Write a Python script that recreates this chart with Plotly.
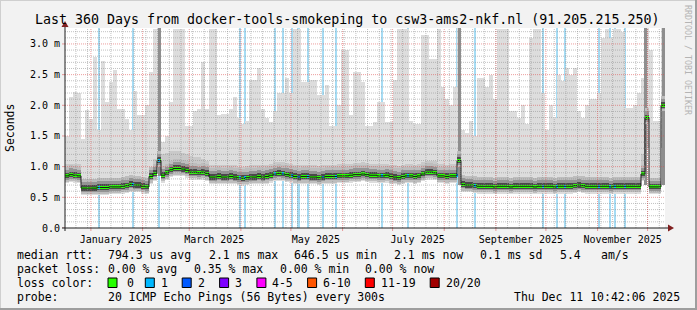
import plotly.graph_objects as go
import pandas as pd

# ---------------- data ----------------
START = pd.Timestamp("2024-12-16 10:42:06")
END = pd.Timestamp("2025-12-11 10:42:06")
BIN_DAYS = 2.4          # each smoke column covers 2.4 days (150 columns)
YMAX = 3.26

median_ms = [
    0.85, 0.87, 0.86, 0.85,
    0.65, 0.65, 0.65, 0.65, 0.66, 0.66, 0.66, 0.67,
    0.67, 0.67, 0.68, 0.69, 0.71, 0.70, 0.70, 0.68, 0.67,
    0.84, 0.89, 1.10, 0.86, 0.90, 0.95, 0.97, 0.97, 0.96, 0.94, 0.91, 0.91, 0.90, 0.91, 0.89,
    0.83, 0.83, 0.84, 0.83, 0.83, 0.84, 0.83, 0.82, 0.81, 0.82, 0.83, 0.83, 0.84, 0.83, 0.84,
    0.86, 0.88, 0.89, 0.88, 0.87, 0.86, 0.84, 0.83, 0.84, 0.84, 0.83, 0.83, 0.82, 0.83, 0.84,
    0.84, 0.84, 0.85, 0.85, 0.85, 0.86, 0.87, 0.87, 0.88, 0.87, 0.86, 0.86, 0.85, 0.85, 0.86,
    0.84, 0.83, 0.82, 0.84, 0.85, 0.85, 0.84, 0.85, 0.88, 0.91, 0.91, 0.90, 0.85, 0.85, 0.84,
    0.85, 0.85, 1.10,
    0.71, 0.70, 0.70, 0.69,
    0.68, 0.68, 0.68, 0.68, 0.67, 0.68, 0.68, 0.68, 0.67, 0.68, 0.68, 0.68, 0.68, 0.68,
    0.67, 0.68, 0.68, 0.68, 0.68, 0.67, 0.68, 0.68, 0.68, 0.68, 0.69, 0.70, 0.69, 0.68,
    0.68, 0.68, 0.68, 0.68, 0.68, 0.67, 0.68, 0.68, 0.68, 0.68, 0.68, 0.68, 0.68,
    0.88, 1.80, 0.67, 0.67, 0.67, 2.00,
]

q3_ms = [
    1.05, 1.05, 1.05, 1.05,
    0.80, 0.80, 0.80, 0.80, 0.81, 0.81, 0.81, 0.82,
    0.82, 0.82, 0.83, 0.84, 0.86, 0.85, 0.85, 0.83, 0.82,
    1.00, 1.12, 1.20, 1.20, 1.22, 1.25, 1.25, 1.25, 1.22, 1.20, 1.18, 1.15, 1.15, 1.12, 1.10,
    1.02, 1.02, 1.03, 1.02, 1.02, 1.03, 1.02, 1.00, 1.00, 1.01, 1.02, 1.02, 1.03, 1.02, 1.03,
    1.05, 1.07, 1.08, 1.07, 1.06, 1.05, 1.03, 1.02, 1.03, 1.03, 1.02, 1.02, 1.01, 1.02, 1.03,
    1.03, 1.03, 1.04, 1.04, 1.04, 1.05, 1.06, 1.06, 1.07, 1.06, 1.05, 1.05, 1.04, 1.04, 1.05,
    1.03, 1.02, 1.01, 1.03, 1.04, 1.04, 1.03, 1.04, 1.07, 1.10, 1.10, 1.09, 1.04, 1.04, 1.03,
    1.04, 1.04, 1.20,
    0.82, 0.82, 0.81, 0.80,
    0.80, 0.80, 0.80, 0.80, 0.79, 0.80, 0.80, 0.80, 0.79, 0.80, 0.80, 0.80, 0.80, 0.80,
    0.79, 0.80, 0.80, 0.80, 0.80, 0.79, 0.80, 0.80, 0.80, 0.80, 0.81, 0.82, 0.81, 0.80,
    0.80, 0.80, 0.80, 0.80, 0.80, 0.79, 0.80, 0.80, 0.80, 0.80, 0.80, 0.80, 0.80,
    1.20, 1.30, 0.80, 0.80, 0.80, 1.30,
]

max_ms = [
    1.50, 2.13, 2.22, 2.20,
    1.45, 1.92, 1.78, 2.79, 1.60, 2.72, 2.05, 2.38,
    2.57, 1.94, 1.94, 1.78, 1.60, 2.23, 1.84, 1.84, 2.00,
    2.54, 3.24, 3.26, 1.40, 1.50, 2.05, 3.24, 3.24, 3.24, 1.67, 1.67, 1.90, 1.94, 2.70, 1.94,
    3.24, 3.24, 1.84, 1.86, 1.86, 1.94, 2.13, 1.80, 1.70, 1.75, 2.41, 2.41, 2.60, 1.94, 1.80,
    1.73, 1.90, 2.20, 2.20, 2.44, 2.20, 3.24, 3.24, 2.38, 2.38, 2.41, 2.41, 2.16, 2.16, 2.33,
    1.67, 1.67, 2.00, 2.90, 2.90, 1.84, 2.54, 2.54, 2.38, 1.67, 1.67, 1.73, 2.05, 2.05, 1.73,
    1.73, 2.41, 3.24, 3.24, 3.24, 1.75, 1.70, 1.70, 3.14, 3.14, 2.76, 2.76, 3.24, 2.30, 2.10,
    2.00, 2.30, 3.26,
    1.60, 1.55, 1.75, 1.50,
    2.44, 2.44, 2.30, 2.50, 2.10, 3.24, 3.24, 3.24, 1.90, 1.90, 1.80, 2.00, 1.70, 3.10,
    3.24, 3.24, 2.20, 1.60, 2.00, 1.80, 2.50, 2.40, 2.60, 2.50, 2.60, 1.90, 1.80, 2.00,
    2.10, 2.10, 2.20, 3.10, 3.24, 3.10, 3.24, 3.24, 3.20, 1.95, 1.95, 2.00, 2.20,
    2.45, 3.26, 2.90, 1.75, 1.75, 3.26,
]

# times with 1/20 packet loss (light-blue background bars) and their widths in days
loss_times = [
    "2025-01-06 00:40", "2025-01-26 01:40", "2025-02-11 00:40", "2025-03-31 10:50",
    "2025-04-03 10:50", "2025-04-21 10:50", "2025-04-26 01:40", "2025-05-01 19:50",
    "2025-05-05 17:30", "2025-05-11 01:40", "2025-05-20 01:40", "2025-05-28 01:10",
    "2025-06-24 11:20", "2025-07-10 10:20", "2025-08-08 11:20", "2025-08-19 10:50",
    "2025-09-29 01:40", "2025-10-07 11:20", "2025-10-12 10:50", "2025-11-01 14:40",
    "2025-11-08 10:50", "2025-11-11 10:50", "2025-11-17 10:50",
]
loss_width_days = [1.2, 1.2, 1.2, 1.2, 1.2, 1.2, 1.2, 1.2, 1.8, 1.2, 1.2, 1.2,
                   1.2, 1.2, 1.2, 1.2, 1.2, 1.2, 1.2, 1.2, 1.2, 1.2, 1.2]

# short, wide-spread transition columns of the smoke
transition_times = ["2025-02-11 03:35", "2025-08-10 03:35", "2025-11-29 18:00", "2025-12-10 13:10"]
transition_low_ms = [0.85, 0.70, 0.70, 0.70]
transition_high_ms = [3.26, 3.26, 3.26, 3.26]

y_tick_vals = [0.0, 0.5, 1.0, 1.5, 2.0, 2.5, 3.0]
y_tick_text = ["0.0", "0.5 m", "1.0 m", "1.5 m", "2.0 m", "2.5 m", "3.0 m"]
x_label_dates = ["2025-01-16", "2025-03-16", "2025-05-16", "2025-07-16", "2025-09-16", "2025-11-16"]
x_label_text = ["January 2025", "March 2025", "May 2025", "July 2025", "September 2025", "November 2025"]
month_starts = ["2025-01-01", "2025-02-01", "2025-03-01", "2025-04-01", "2025-05-01", "2025-06-01",
                "2025-07-01", "2025-08-01", "2025-09-01", "2025-10-01", "2025-11-01", "2025-12-01"]

title_text = "Last 360 Days from docker-tools-smokeping to csw3-ams2-nkf.nl (91.205.215.250)"
rtt_items = ["median rtt:", "794.3 us avg", "2.1 ms max", "646.5 us min", "2.1 ms now", "0.1 ms sd", "5.4", "am/s"]
loss_items = ["packet loss:", "0.00 % avg", "0.35 % max", "0.00 % min", "0.00 % now"]
loss_levels = ["0", "1", "2", "3", "4-5", "6-10", "11-19", "20/20"]
loss_colors = ["#26ff00", "#00b8ff", "#0059ff", "#7e00ff", "#ff00ff", "#ff5500", "#ff0000", "#a10000"]
probe_items = ["probe:", "20 ICMP Echo Pings (56 Bytes) every 300s"]
stamp_text = "Thu Dec 11 10:42:06 2025"

# ---------------- geometry / style ----------------
W, H = 697, 310
PL, PR, PT, PB = 65, 665, 28, 228          # plot area in pixels
MONO = "DejaVu Sans Mono"
DAY_MS = 86400000


def px(xp):
    return (xp - PL) / (PR - PL)


def py(yp):
    return (PB - yp) / (PB - PT)


n = len(median_ms)
bin_start = [START + pd.Timedelta(days=BIN_DAYS * i) for i in range(n)]
bin_mid = [START + pd.Timedelta(days=BIN_DAYS * (i + 0.5)) for i in range(n)]
bw = BIN_DAYS * DAY_MS

fig = go.Figure()

# loss background bars (full height, behind the smoke)
fig.add_trace(go.Bar(
    x=pd.to_datetime(loss_times), y=[YMAX] * len(loss_times), base=0,
    width=[w * DAY_MS for w in loss_width_days],
    marker=dict(color="#a6dcf4", line=dict(width=0)), hoverinfo="skip"))

SMOKE_BELOW = 0.12
# light smoke: lowest to highest ping
fig.add_trace(go.Bar(
    x=bin_mid, base=[m - SMOKE_BELOW for m in median_ms],
    y=[t - (m - SMOKE_BELOW) for t, m in zip(max_ms, median_ms)], width=bw,
    marker=dict(color="#dddddd", line=dict(width=0)), hoverinfo="skip"))
# medium smoke
fig.add_trace(go.Bar(
    x=bin_mid, base=[m - 0.10 for m in median_ms],
    y=[q - (m - 0.10) for q, m in zip(q3_ms, median_ms)], width=bw,
    marker=dict(color="#c9c9c9", line=dict(width=0)), hoverinfo="skip"))
# transition columns
fig.add_trace(go.Bar(
    x=pd.to_datetime(transition_times), base=transition_low_ms,
    y=[h - l for h, l in zip(transition_high_ms, transition_low_ms)], width=1.3 * DAY_MS,
    marker=dict(color="#8e8e8e", line=dict(width=0)), hoverinfo="skip"))
# darker smoke close to the median
for lo, hi, col in [(0.10, 0.15, "#bdbdbd"), (0.065, 0.10, "#959595"), (0.04, 0.05, "#4a4a4a")]:
    fig.add_trace(go.Bar(
        x=bin_mid, base=[m - lo for m in median_ms], y=[lo + hi] * n, width=bw,
        marker=dict(color=col, line=dict(width=0)), hoverinfo="skip"))
# dark step line of the median
fig.add_trace(go.Scatter(
    x=bin_start + [END], y=median_ms + [median_ms[-1]], mode="lines",
    line=dict(color="#1a1a1a", width=1, shape="hv"), hoverinfo="skip"))
# median coloured by loss (0 loss)
fig.add_trace(go.Bar(
    x=bin_mid, base=[m - 0.022 for m in median_ms], y=[0.047] * n, width=bw,
    marker=dict(color=loss_colors[0], line=dict(width=0)), hoverinfo="skip"))
# median where 1 packet was lost
loss_ts = pd.to_datetime(loss_times)
loss_med = [median_ms[min(n - 1, int((t - START) / pd.Timedelta(days=BIN_DAYS)))] for t in loss_ts]
fig.add_trace(go.Bar(
    x=loss_ts, base=[m - 0.022 for m in loss_med], y=[0.047] * len(loss_ts),
    width=[w * DAY_MS for w in loss_width_days],
    marker=dict(color=loss_colors[1], line=dict(width=0)), hoverinfo="skip"))

# ---------------- grid (drawn above the data, like rrdtool) ----------------
shapes = []
MINOR = "rgba(143,143,143,0.55)"
MAJOR = "rgba(222,79,79,0.55)"
DOT = "1px,1px"
for k in range(1, 33):
    v = k / 10
    major = (k % 5 == 0)
    shapes.append(dict(type="line", xref="paper", yref="y", x0=0, x1=1, y0=v, y1=v, layer="above",
                       line=dict(color=MAJOR if major else MINOR, width=1, dash=DOT)))
wk = pd.Timestamp("2024-12-23")
while wk < END:
    shapes.append(dict(type="line", xref="x", yref="paper", x0=wk, x1=wk, y0=0, y1=1, layer="above",
                       line=dict(color=MINOR, width=1, dash=DOT)))
    wk += pd.Timedelta(days=7)
for d in month_starts:
    shapes.append(dict(type="line", xref="x", yref="paper", x0=d, x1=d, y0=0, y1=1, layer="above",
                       line=dict(color=MAJOR, width=1, dash=DOT)))
    shapes.append(dict(type="line", xref="x", yref="paper", x0=d, x1=d, y0=0, y1=py(231), layer="above",
                       line=dict(color=MAJOR, width=1)))
for v in y_tick_vals:
    shapes.append(dict(type="line", xref="paper", yref="y", x0=px(62), x1=0, y0=v, y1=v, layer="above",
                       line=dict(color=MAJOR, width=1)))

# axes with arrows
AX = "#1f1f1f"
ARROW = "#801f1f"
shapes.append(dict(type="line", xref="paper", yref="paper", x0=px(62), x1=px(670), y0=0, y1=0,
                   layer="above", line=dict(color=AX, width=1)))
shapes.append(dict(type="line", xref="paper", yref="paper", x0=0, x1=0, y0=py(231), y1=py(24),
                   layer="above", line=dict(color=AX, width=1)))
shapes.append(dict(type="path", xref="paper", yref="paper", layer="above",
                   path=f"M {px(674)},{py(228)} L {px(668)},{py(224.5)} L {px(668)},{py(231.5)} Z",
                   fillcolor=ARROW, line=dict(color=ARROW, width=0)))
shapes.append(dict(type="path", xref="paper", yref="paper", layer="above",
                   path=f"M {px(65)},{py(21)} L {px(61.5)},{py(27)} L {px(68.5)},{py(27)} Z",
                   fillcolor=ARROW, line=dict(color=ARROW, width=0)))

# frame (rrdtool shade A / shade B)
shapes.append(dict(type="line", xref="paper", yref="paper", x0=px(0), x1=px(W), y0=py(0.5), y1=py(0.5),
                   line=dict(color="#cfcfcf", width=1)))
shapes.append(dict(type="line", xref="paper", yref="paper", x0=px(0.5), x1=px(0.5), y0=py(0), y1=py(H),
                   line=dict(color="#cfcfcf", width=1)))
shapes.append(dict(type="line", xref="paper", yref="paper", x0=px(0), x1=px(W), y0=py(H - 1), y1=py(H - 1),
                   line=dict(color="#9e9e9e", width=2)))
shapes.append(dict(type="line", xref="paper", yref="paper", x0=px(W - 1), x1=px(W - 1), y0=py(0), y1=py(H),
                   line=dict(color="#9e9e9e", width=2)))

# loss colour boxes
box_x = [108, 145.3, 182.2, 219.6, 256.9, 307.6, 365.3, 430.2]
for bx, col in zip(box_x, loss_colors):
    shapes.append(dict(type="rect", xref="paper", yref="paper", x0=px(bx), x1=px(bx + 9),
                       y0=py(278), y1=py(287.5), fillcolor=col, line=dict(color="#000000", width=1)))

# ---------------- texts ----------------
ann = []


def text(t, xp, yp, size=11.5, anchor="left", color="#000000", angle=0):
    ann.append(dict(text=t, x=px(xp), y=py(yp), xref="paper", yref="paper", showarrow=False,
                    xanchor=anchor, yanchor="middle", textangle=angle, borderpad=0,
                    font=dict(family=MONO, size=size, color=color)))


text(title_text, 347, 19.5, size=13.3, anchor="center")
text("Seconds", 10, 128, size=11.5, anchor="center", angle=-90)
text("RRDTOOL / TOBI OETIKER", 688, 60, size=8.3, anchor="center", color="#b4b4b4", angle=90)

ROW = [254.7, 268.7, 282.7, 296.7]
for t, xp in zip(rtt_items, [15.6, 106.7, 207.6, 292.9, 392.9, 479.1, 558.7, 600]):
    text(t, xp, ROW[0])
for t, xp in zip(loss_items, [15.6, 106.7, 193.3, 279.1, 364.4]):
    text(t, xp, ROW[1])
text("loss color:", 15.6, ROW[2])
for t, xp in zip(loss_levels, [125.8, 160, 196.9, 234.2, 271.1, 322.2, 380, 445.3]):
    text(t, xp, ROW[2])
text(probe_items[0], 15.6, ROW[3])
text(probe_items[1], 106.7, ROW[3])
text(stamp_text, 680.5, ROW[3], anchor="right")

fig.update_layout(
    width=W, height=H,
    margin=dict(l=PL, r=W - PR, t=PT, b=H - PB, pad=0),
    paper_bgcolor="#f2f2f2", plot_bgcolor="#ffffff",
    barmode="overlay", bargap=0, showlegend=False,
    font=dict(family=MONO, size=10, color="#000000"),
    shapes=shapes, annotations=ann,
    xaxis=dict(type="date", range=[START, END], tickvals=x_label_dates, ticktext=x_label_text,
               ticks="", showgrid=False, zeroline=False, showline=False,
               tickfont=dict(family=MONO, size=10, color="#000000"), ticklabelstandoff=4),
    yaxis=dict(range=[0, YMAX], tickvals=y_tick_vals, ticktext=y_tick_text,
               ticks="", showgrid=False, zeroline=False, showline=False,
               tickfont=dict(family=MONO, size=10, color="#000000"), ticklabelstandoff=4),
)

fig.write_html("out.html")
